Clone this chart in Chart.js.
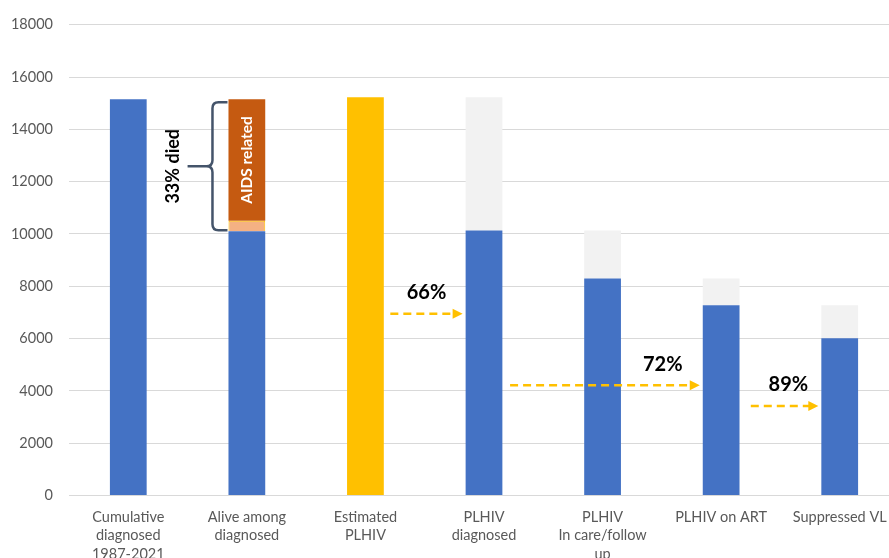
<!DOCTYPE html>
<html>
<head>
<meta charset="utf-8">
<script src="https://cdn.jsdelivr.net/npm/chart.js@4/dist/chart.umd.min.js"></script>
<style>
html,body{margin:0;padding:0;background:#fff;overflow:hidden;}
#wrap{width:899px;height:576px;position:relative;}
</style>
</head>
<body>
<div id="wrap"><canvas id="c"></canvas></div>
<script>
const categories = [
  ['Cumulative','diagnosed','1987-2021'],
  ['Alive among','diagnosed'],
  ['Estimated','PLHIV'],
  ['PLHIV','diagnosed'],
  ['PLHIV','In care/follow','up'],
  'PLHIV on ART',
  'Suppressed VL'
];
const mainValues     = [15150, 10100, null, 10130, 8300, 7270, 6010];
const otherDeaths    = [null, 400, null, null, null, null, null];
const aidsDeaths     = [null, 4650, null, null, null, null, null];
const estimatedPlhiv = [null, null, 15230, null, null, null, null];
const gapValues      = [null, null, null, 5100, 1830, 1030, 1260];
const yMin = 0, yMax = 18000, yStep = 2000;

const diedLabel = '33% died';
const aidsLabel = 'AIDS related';
// cascade arrows: label, from category, to category, value level
const arrowLabels = ['66%', '72%', '89%'];
const arrowFrom   = [2, 3, 5];
const arrowTo     = [3, 5, 6];
const arrowLevel  = [6950, 4215, 3420];

const FONT = 'Lato, "Open Sans", sans-serif';

const annotations = {
  id: 'annotations',
  afterDatasetsDraw(chart) {
    const ctx = chart.ctx, x = chart.scales.x, y = chart.scales.y;
    const cw = x.getPixelForValue(1) - x.getPixelForValue(0);
    const half = cw * 0.31 / 2;
    ctx.save();
    const c1 = x.getPixelForValue(1);
    const aTop = y.getPixelForValue(mainValues[1] + otherDeaths[1] + aidsDeaths[1]);
    const aBot = y.getPixelForValue(mainValues[1] + otherDeaths[1]);
    ctx.save();
    ctx.translate(c1, (aTop + aBot) / 2);
    ctx.rotate(-Math.PI / 2);
    ctx.fillStyle = '#ffffff';
    ctx.font = 'bold 15.5px ' + FONT;
    ctx.textAlign = 'center';
    ctx.textBaseline = 'middle';
    ctx.fillText(aidsLabel, 0, 0);
    ctx.restore();

    const bTop = y.getPixelForValue(mainValues[1] + otherDeaths[1] + aidsDeaths[1]) + 3;
    const bBot = y.getPixelForValue(mainValues[1]) - 1;
    const bMid = (bTop + bBot) / 2;
    const bx = c1 - cw * 0.29;
    const hookX = c1 - half - 1;
    const tipX = c1 - cw * 0.5;
    const r = 6;
    ctx.strokeStyle = '#44546a';
    ctx.lineWidth = 2.5;
    ctx.beginPath();
    ctx.moveTo(hookX, bTop);
    ctx.lineTo(bx + r, bTop);
    ctx.quadraticCurveTo(bx, bTop, bx, bTop + r);
    ctx.lineTo(bx, bMid - r);
    ctx.quadraticCurveTo(bx, bMid, bx - r, bMid);
    ctx.lineTo(tipX, bMid);
    ctx.moveTo(bx - r, bMid);
    ctx.quadraticCurveTo(bx, bMid, bx, bMid + r);
    ctx.lineTo(bx, bBot - r);
    ctx.quadraticCurveTo(bx, bBot, bx + r, bBot);
    ctx.lineTo(hookX, bBot);
    ctx.stroke();

    ctx.save();
    ctx.translate(c1 - cw * 0.62, bMid);
    ctx.rotate(-Math.PI / 2);
    ctx.fillStyle = '#000';
    ctx.font = 'bold 18px ' + FONT;
    ctx.textAlign = 'center';
    ctx.textBaseline = 'middle';
    ctx.fillText(diedLabel, 0, 0);
    ctx.restore();

    const startFrac = [0.21, 0.22, 0.25];
    const labelShift = [null, -37, -30];
    for (let i = 0; i < arrowLabels.length; i++) {
      const x0 = x.getPixelForValue(arrowFrom[i]) + cw * startFrac[i];
      const x1 = x.getPixelForValue(arrowTo[i]) - half - 3;
      const yy = y.getPixelForValue(arrowLevel[i]);
      ctx.strokeStyle = '#ffc000';
      ctx.fillStyle = '#ffc000';
      ctx.lineWidth = 2.5;
      ctx.setLineDash([8, 5]);
      ctx.beginPath();
      ctx.moveTo(x0, yy);
      ctx.lineTo(x1 - 9, yy);
      ctx.stroke();
      ctx.setLineDash([]);
      ctx.beginPath();
      ctx.moveTo(x1, yy);
      ctx.lineTo(x1 - 10, yy - 5);
      ctx.lineTo(x1 - 10, yy + 5);
      ctx.closePath();
      ctx.fill();
      ctx.fillStyle = '#000';
      ctx.font = 'bold 20px ' + FONT;
      ctx.textAlign = 'center';
      ctx.textBaseline = 'middle';
      const lx = (labelShift[i] === null) ? (x0 + x1) / 2 : x1 + labelShift[i];
      ctx.fillText(arrowLabels[i], lx, yy - 21);
    }
    ctx.restore();
  }
};

new Chart(document.getElementById('c'), {
  type: 'bar',
  data: {
    labels: categories,
    datasets: [
      { label: 'main', data: mainValues, backgroundColor: '#4472c4' },
      { label: 'other deaths', data: otherDeaths, backgroundColor: '#f4b183', borderColor: '#ffc000', borderWidth: 1 },
      { label: 'AIDS related', data: aidsDeaths, backgroundColor: '#c55a11' },
      { label: 'Estimated', data: estimatedPlhiv, backgroundColor: '#ffc000' },
      { label: 'gap', data: gapValues, backgroundColor: '#f2f2f2' }
    ]
  },
  options: {
    responsive: true,
    maintainAspectRatio: false,
    animation: false,
    events: [],
    layout: { padding: { left: 12, right: 0, top: 11, bottom: 0 } },
    plugins: { legend: { display: false }, tooltip: { enabled: false } },
    datasets: { bar: { categoryPercentage: 1, barPercentage: 0.31, stack: 's' } },
    scales: {
      x: {
        stacked: true,
        grid: { display: false, drawTicks: false },
        border: { display: true, color: '#d9d9d9', width: 1 },
        ticks: { color: '#595959', font: { family: FONT, size: 14.5, lineHeight: 1.3 }, padding: 12, maxRotation: 0, autoSkip: false }
      },
      y: {
        stacked: true,
        min: yMin, max: yMax,
        afterFit(scale) { scale.width = 57; },
        grid: { color: '#d9d9d9', drawTicks: false },
        border: { display: false },
        ticks: { stepSize: yStep, color: '#595959', font: { family: FONT, size: 14.5 }, padding: 16, callback: v => String(v) }
      }
    }
  },
  plugins: [annotations]
});
</script>
</body>
</html>
